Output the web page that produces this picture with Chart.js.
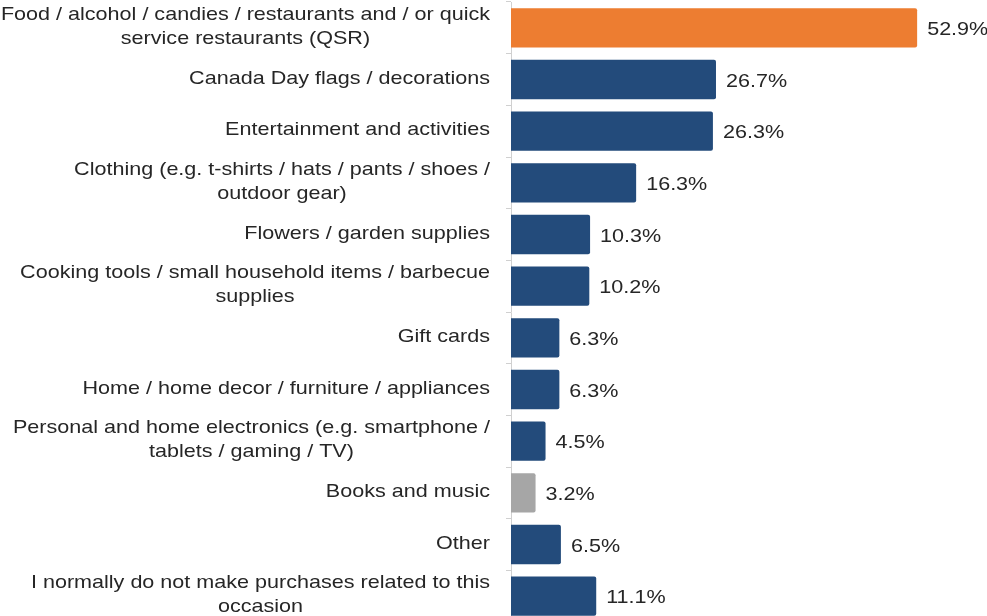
<!DOCTYPE html>
<html>
<head>
<meta charset="utf-8">
<script src="https://cdn.jsdelivr.net/npm/chart.js@4/dist/chart.umd.min.js"></script>
<style>
  html, body { margin: 0; padding: 0; background: #fff; overflow: hidden; }
  #wrap { position: relative; width: 987px; height: 622px; }
</style>
</head>
<body>
<div id="wrap"><canvas id="purchaseChart"></canvas></div>
<script>
// purchase categories (multi-line labels are split where they wrap)
const categories = [
  ['Food / alcohol / candies / restaurants and / or quick', 'service restaurants (QSR)'],
  ['Canada Day flags / decorations'],
  ['Entertainment and activities'],
  ['Clothing (e.g. t-shirts / hats / pants / shoes /', 'outdoor gear)'],
  ['Flowers / garden supplies'],
  ['Cooking tools / small household items / barbecue', 'supplies'],
  ['Gift cards'],
  ['Home / home decor / furniture / appliances'],
  ['Personal and home electronics (e.g. smartphone /', 'tablets / gaming / TV)'],
  ['Books and music'],
  ['Other'],
  ['I normally do not make purchases related to this', 'occasion']
];
const shares = [52.9, 26.7, 26.3, 16.3, 10.3, 10.2, 6.3, 6.3, 4.5, 3.2, 6.5, 11.1];
const highlight = ['top', 'base', 'base', 'base', 'base', 'base', 'base', 'base', 'base', 'low', 'base', 'base'];

const palette = { top: '#ED7D31', base: '#234B7B', low: '#A6A6A6' };
const FONT = '19px "Liberation Sans", Arial, sans-serif';
const STRETCH = 1.135;   // text is drawn slightly wide
const TEXT = '#262626';

function wideText(ctx, str, x, y) {
  ctx.save();
  ctx.translate(x, y);
  ctx.scale(STRETCH, 1);
  ctx.fillText(str, 0, 0);
  ctx.restore();
}

// category labels: block right-aligned to the axis, lines centred within the block
const categoryLabels = {
  id: 'categoryLabels',
  afterDraw(chart) {
    const { ctx } = chart;
    const y = chart.scales.y;
    const right = chart.chartArea.left - 21;
    const lineH = 24;
    ctx.save();
    ctx.font = FONT;
    ctx.fillStyle = TEXT;
    ctx.textAlign = 'center';
    ctx.textBaseline = 'middle';
    categories.forEach((lines, i) => {
      const w = Math.max(...lines.map(l => ctx.measureText(l).width)) * STRETCH;
      const cx = right - w / 2;
      const cy = y.getPixelForValue(i) - 1;
      const top = cy - (lines.length - 1) * lineH / 2;
      lines.forEach((l, j) => wideText(ctx, l, cx, top + j * lineH));
    });
    ctx.restore();
  }
};

// percentage next to each bar
const valueLabels = {
  id: 'valueLabels',
  afterDatasetsDraw(chart) {
    const { ctx } = chart;
    const meta = chart.getDatasetMeta(0);
    ctx.save();
    ctx.font = FONT;
    ctx.fillStyle = TEXT;
    ctx.textAlign = 'left';
    ctx.textBaseline = 'middle';
    meta.data.forEach((bar, i) => {
      wideText(ctx, shares[i].toFixed(1) + '%', bar.x + 10, bar.y + 2);
    });
    ctx.restore();
  }
};

new Chart(document.getElementById('purchaseChart'), {
  type: 'bar',
  data: {
    labels: categories.map(c => c.join(' ')),
    datasets: [{
      data: shares,
      backgroundColor: highlight.map(h => palette[h]),
      borderRadius: 2,
      borderSkipped: 'start',
      barPercentage: 0.76,
      categoryPercentage: 1
    }]
  },
  options: {
    indexAxis: 'y',
    responsive: true,
    maintainAspectRatio: false,
    animation: false,
    layout: { padding: { top: 2, right: 0, bottom: 0, left: 0 } },
    plugins: { legend: { display: false }, tooltip: { enabled: false } },
    scales: {
      x: {
        display: false,
        min: 0,
        max: 62
      },
      y: {
        afterFit(scale) { scale.width = 511; },
        ticks: { display: false },
        grid: {
          drawOnChartArea: false,
          drawTicks: true,
          tickLength: 5,
          color: '#D0D0D0',
          offset: true
        },
        border: { display: true, color: '#D0D0D0', width: 1 }
      }
    }
  },
  plugins: [categoryLabels, valueLabels]
});
</script>
</body>
</html>
